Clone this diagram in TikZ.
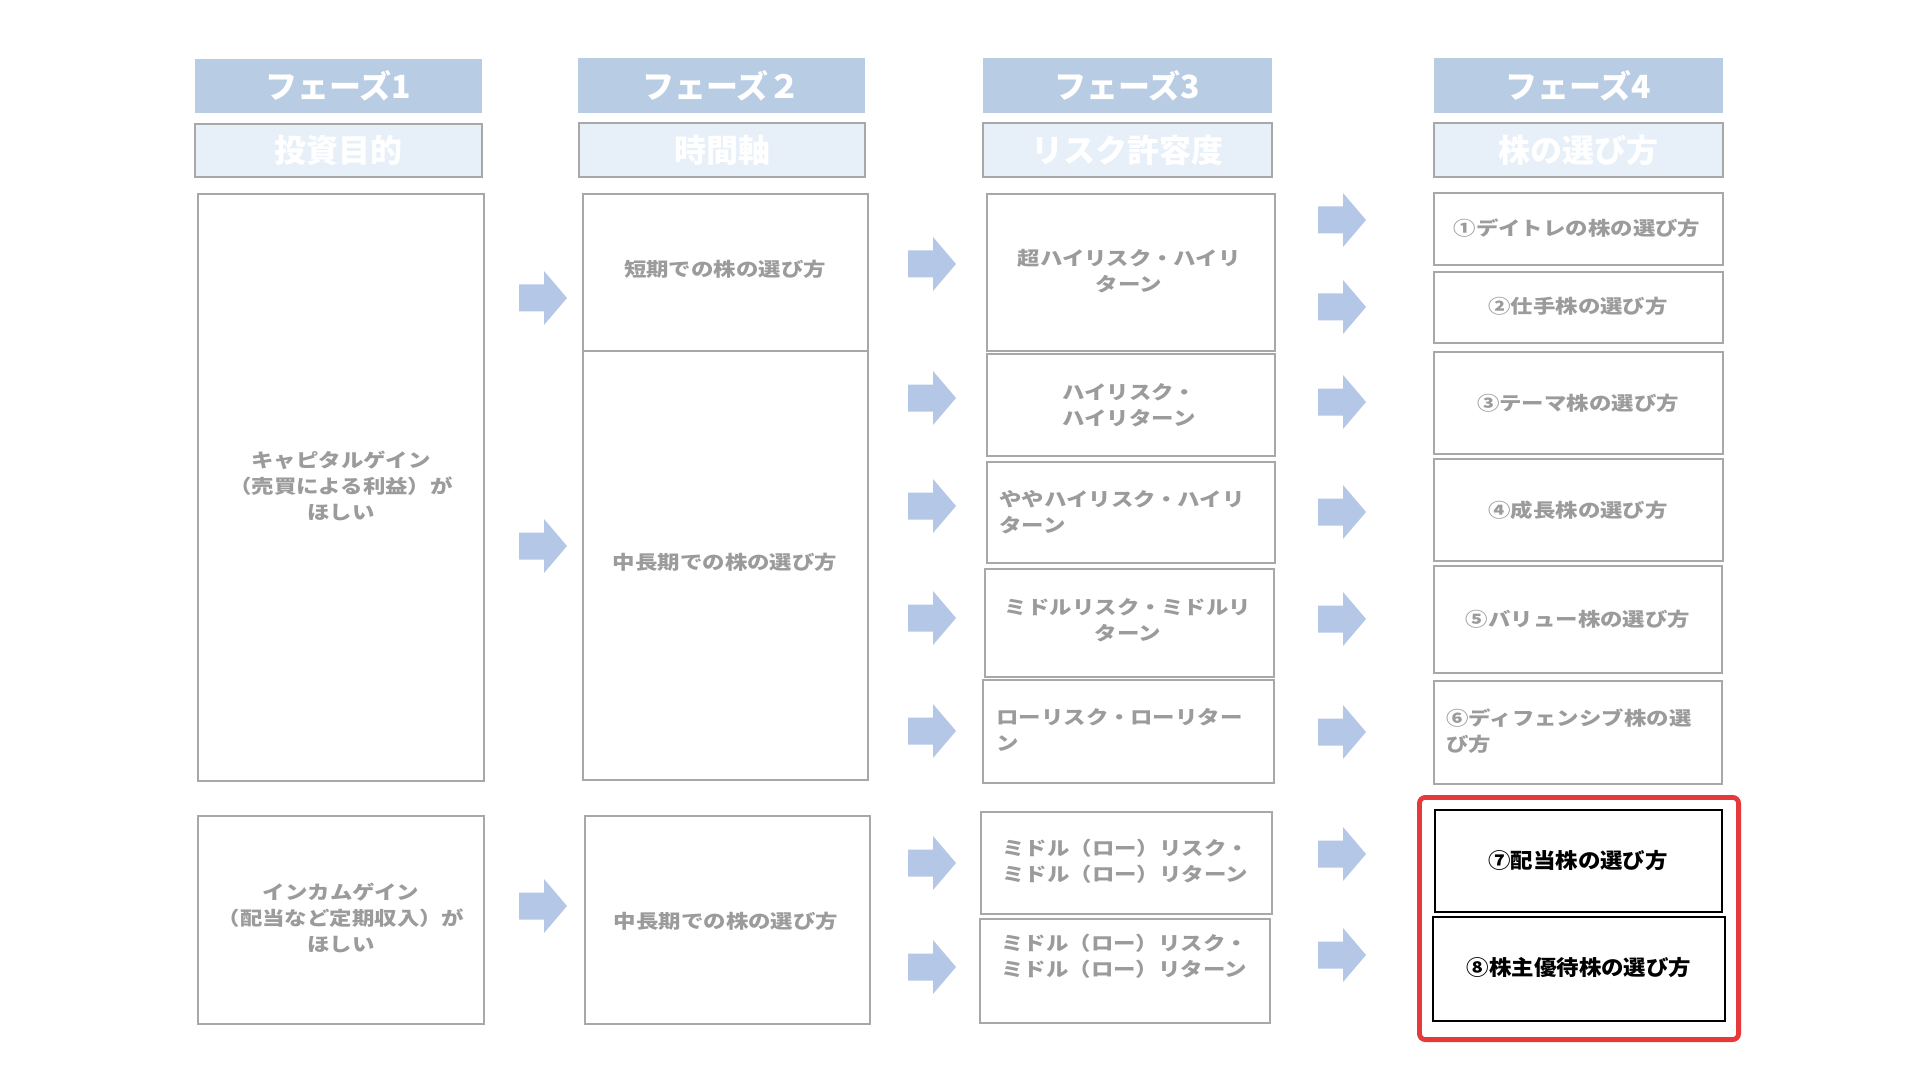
\documentclass[tikz,border=0pt]{standalone}
\usepackage{fontspec}
\usetikzlibrary{fit}
\newfontfamily\gfont{Noto Sans CJK JP}[FakeStretch=1.18]
\newfontfamily\kfont{Noto Sans CJK JP}[FakeStretch=1.07]
\newfontfamily\hfont{Noto Sans CJK JP}
\definecolor{hdark}{RGB}{184,204,228}
\definecolor{hlight}{RGB}{231,239,249}
\definecolor{bgray}{RGB}{168,168,168}
\definecolor{tgray}{RGB}{155,155,155}
\definecolor{afill}{RGB}{181,199,231}
\definecolor{redc}{RGB}{230,57,57}
\begin{document}
\begin{tikzpicture}[x=0.5pt,y=-0.5pt,
  hdr/.style={fill=hdark, draw=none, inner sep=0pt},
  sub/.style={fill=hlight, draw=bgray, line width=0.6pt, inner sep=0pt},
  gbox/.style={draw=bgray, line width=0.75pt, fill=white, inner sep=0pt},
  kbox/.style={draw=black, line width=0.75pt, fill=white, inner sep=0pt},
  selbox/.style={draw=redc, line width=2.4pt, rounded corners=3pt, inner sep=0pt},
  htxt/.style={text=white, inner sep=0pt, font=\hfont\bfseries\fontsize{16}{18}\selectfont},
  gtxt/.style={text=tgray, inner sep=0pt, font=\gfont\bfseries\fontsize{9.5}{13}\selectfont},
  ktxt/.style={text=black, inner sep=0pt, font=\kfont\bfseries\fontsize{10.5}{13}\selectfont},
  barrow/.pic={\fill[afill] (0,-13.5) -- (25,-13.5) -- (25,-27) -- (48,0) -- (25,27) -- (25,13.5) -- (0,13.5) -- cycle;}
]
\fill[white] (0,0) rectangle (1920,1080);
\useasboundingbox (0,0) rectangle (1920,1080);

% headers
\node[hdr, fit={(195,59) (482,113)}] (h1) {};
\node[hdr, fit={(578,58) (865,113)}] (h2) {};
\node[hdr, fit={(983,58) (1272,113)}] (h3) {};
\node[hdr, fit={(1434,58) (1723,113)}] (h4) {};
\node[htxt] (h1t) at (h1) {フェーズ1};
\node[htxt] (h2t) at (h2) {フェーズ２};
\node[htxt] (h3t) at (h3) {フェーズ3};
\node[htxt] (h4t) at (h4) {フェーズ4};

\node[sub, fit={(195,124) (482,177)}] (s1) {};
\node[sub, fit={(579,123) (865,177)}] (s2) {};
\node[sub, fit={(983,123) (1272,177)}] (s3) {};
\node[sub, fit={(1434,123) (1723,177)}] (s4) {};
\node[htxt] (s1t) at (s1) {投資目的};
\node[htxt] (s2t) at (s2) {時間軸};
\node[htxt] (s3t) at (s3) {リスク許容度};
\node[htxt] (s4t) at (s4) {株の選び方};

% column 1
\node[gbox, fit={(198,194) (484,781)}] (b1a) {};
\node[gbox, fit={(198,816) (484,1024)}] (b1b) {};
\node[gtxt, align=center] (t1a) at (341,486) {キャピタルゲイン\\（売買による利益）が\\ほしい};
\node[gtxt, align=center] (t1b) at (341,918) {インカムゲイン\\（配当など定期収入）が\\ほしい};

% column 2
\node[gbox, fit={(583,194) (868,351)}] (b2a) {};
\node[gbox, fit={(583,351) (868,780)}] (b2b) {};
\node[gbox, fit={(585,816) (870,1024)}] (b2c) {};
\node[gtxt] (t2a) at (725,269) {短期での株の選び方};
\node[gtxt] (t2b) at (725,562) {中長期での株の選び方};
\node[gtxt] (t2c) at (726,921) {中長期での株の選び方};

% column 3
\node[gbox, fit={(987,194) (1275,351)}] (b3a) {};
\node[gbox, fit={(987,354) (1275,456)}] (b3b) {};
\node[gbox, fit={(987,462) (1275,563)}] (b3c) {};
\node[gbox, fit={(985,569) (1274,677)}] (b3d) {};
\node[gbox, fit={(983,680) (1274,783)}] (b3e) {};
\node[gbox, fit={(981,812) (1272,914)}] (b3f) {};
\node[gbox, fit={(980,919) (1270,1023)}] (b3g) {};
\node[gtxt, align=center] (t3a) at (1129,271) {超ハイリスク・ハイリ\\ターン};
\node[gtxt, align=center] (t3b) at (1129,405) {ハイリスク・\\ハイリターン};
\node[gtxt, align=left, anchor=west] (t3c) at (999,512) {ややハイリスク・ハイリ\\ターン};
\node[gtxt, align=center] (t3d) at (1128,620) {ミドルリスク・ミドルリ\\ターン};
\node[gtxt, align=left, anchor=west] (t3e) at (996,730) {ローリスク・ローリター\\ン};
\node[gtxt, align=left, anchor=west] (t3f) at (1002,861) {ミドル（ロー）リスク・\\ミドル（ロー）リターン};
\node[gtxt, align=left, anchor=west] (t3g) at (1001,956) {ミドル（ロー）リスク・\\ミドル（ロー）リターン};

% column 4
\node[gbox, fit={(1434,193) (1723,265)}] (b4a) {};
\node[gbox, fit={(1434,272) (1723,343)}] (b4b) {};
\node[gbox, fit={(1434,352) (1723,454)}] (b4c) {};
\node[gbox, fit={(1434,459) (1723,561)}] (b4d) {};
\node[gbox, fit={(1434,566) (1722,673)}] (b4e) {};
\node[gbox, fit={(1434,681) (1722,784)}] (b4f) {};
\node[selbox, fit={(1419.4,797.4) (1738.6,1039.6)}] (sel) {};
\node[kbox, fit={(1435,810) (1722,912)}] (b4g) {};
\node[kbox, fit={(1433,917) (1725,1021)}] (b4h) {};
\node[gtxt] (t4a) at (1577,228) {①デイトレの株の選び方};
\node[gtxt] (t4b) at (1578,306) {②仕手株の選び方};
\node[gtxt] (t4c) at (1578,403) {③テーマ株の選び方};
\node[gtxt] (t4d) at (1578,510) {④成長株の選び方};
\node[gtxt] (t4e) at (1578,619) {⑤バリュー株の選び方};
\node[gtxt, align=left, anchor=west] (t4f) at (1446,731) {⑥ディフェンシブ株の選\\び方};
\node[ktxt] (t4g) at (1578,861) {⑦配当株の選び方};
\node[ktxt] (t4h) at (1579,968) {⑧株主優待株の選び方};

% arrows
\foreach \yy in {298,546,906} \pic at (519,\yy) {barrow};
\foreach \yy in {264,398,506,618,731,863,967} \pic at (908,\yy) {barrow};
\foreach \yy in {220,307,402,512,619,732,854,955} \pic at (1318,\yy) {barrow};
\end{tikzpicture}
\end{document}
